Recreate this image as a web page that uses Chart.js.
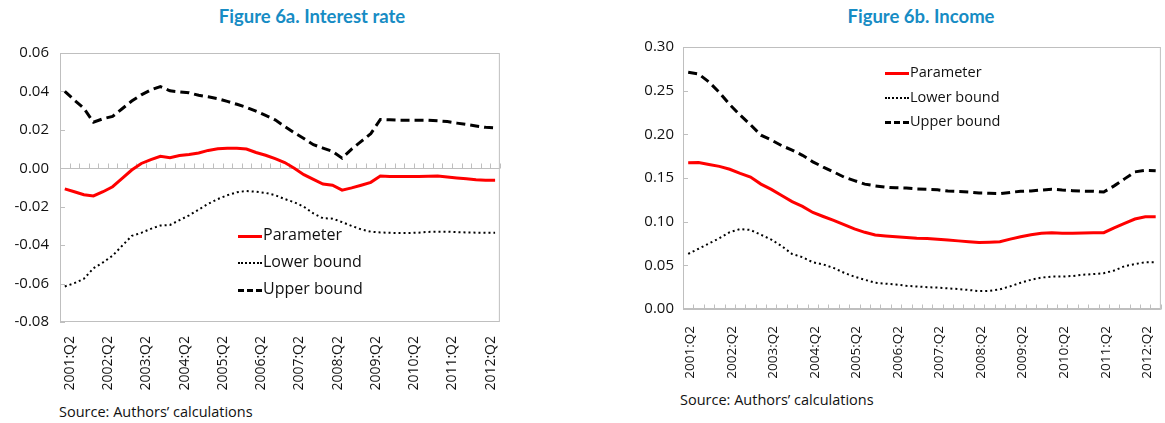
<!DOCTYPE html>
<html>
<head>
<meta charset="utf-8">
<script src="https://cdn.jsdelivr.net/npm/chart.js@4.4.1/dist/chart.umd.min.js"></script>
<style>
  html, body { margin: 0; padding: 0; background: #fff; }
  body { width: 1165px; height: 423px; position: relative; overflow: hidden; font-family: "Open Sans", sans-serif; }
  .title { position: absolute; top: 5px; font-family: Lato, sans-serif; font-weight: bold; font-size: 18.5px; color: #178cc4; white-space: nowrap; transform: translateX(-50%); }
  .source { position: absolute; font-size: 14.5px; color: #111; white-space: nowrap; }
  .box { position: absolute; }
  .legend { position: absolute; color: #111; white-space: nowrap; }
  .legend div { position: relative; }
  .legend span.s { position: absolute; left: 0; width: 24px; }
</style>
</head>
<body>
<div class="title" style="left:312px">Figure 6a. Interest rate</div>
<div class="title" style="left:921px">Figure 6b. Income</div>

<div class="box" style="left:0; top:41px; width:518px; height:361px"><canvas id="rateChart"></canvas></div>
<div class="box" style="left:623px; top:37px; width:558px; height:352px"><canvas id="incomeChart"></canvas></div>

<div class="legend" id="legA" style="left:238px; top:221px; font-size:16px; line-height:27px"></div>
<div class="legend" id="legB" style="left:885px; top:60px; font-size:14.5px; line-height:24.5px"></div>

<div class="source" style="left:59px; top:402px">Source: Authors’ calculations</div>
<div class="source" style="left:680px; top:390px">Source: Authors’ calculations</div>

<script>
const quarters = [
  '2001:Q2','2001:Q3','2001:Q4',
  '2002:Q1','2002:Q2','2002:Q3','2002:Q4',
  '2003:Q1','2003:Q2','2003:Q3','2003:Q4',
  '2004:Q1','2004:Q2','2004:Q3','2004:Q4',
  '2005:Q1','2005:Q2','2005:Q3','2005:Q4',
  '2006:Q1','2006:Q2','2006:Q3','2006:Q4',
  '2007:Q1','2007:Q2','2007:Q3','2007:Q4',
  '2008:Q1','2008:Q2','2008:Q3','2008:Q4',
  '2009:Q1','2009:Q2','2009:Q3','2009:Q4',
  '2010:Q1','2010:Q2','2010:Q3','2010:Q4',
  '2011:Q1','2011:Q2','2011:Q3','2011:Q4',
  '2012:Q1','2012:Q2','2012:Q3'
];

// Figure 6a - interest rate
const rateParam = [-0.0107,-0.0122,-0.0138,-0.0144,-0.0122,-0.0096,-0.0053,-0.0009,0.0025,0.0045,
  0.0062,0.0055,0.0066,0.0072,0.0080,0.0093,0.0102,0.0104,0.0104,0.0100,
  0.0082,0.0068,0.0050,0.0030,0.0000,-0.0033,-0.0058,-0.0082,-0.0088,-0.0114,
  -0.0102,-0.0088,-0.0073,-0.0040,-0.0043,-0.0043,-0.0043,-0.0043,-0.0042,-0.0040,
  -0.0045,-0.0050,-0.0054,-0.0060,-0.0062,-0.0062];
const rateLower = [-0.0615,-0.0598,-0.0575,-0.0520,-0.0490,-0.0455,-0.0403,-0.0352,-0.0336,-0.0315,
  -0.0298,-0.0295,-0.0270,-0.0245,-0.0215,-0.0185,-0.0160,-0.0140,-0.0125,-0.0118,
  -0.0122,-0.0128,-0.0140,-0.0160,-0.0177,-0.0200,-0.0235,-0.0260,-0.0262,-0.0280,
  -0.0300,-0.0318,-0.0330,-0.0334,-0.0336,-0.0337,-0.0337,-0.0335,-0.0331,-0.0330,
  -0.0330,-0.0332,-0.0334,-0.0335,-0.0336,-0.0336];
const rateUpper = [0.0400,0.0355,0.0312,0.0240,0.0258,0.0270,0.0310,0.0350,0.0382,0.0408,
  0.0425,0.0403,0.0398,0.0393,0.0380,0.0372,0.0362,0.0348,0.0333,0.0317,
  0.0297,0.0275,0.0252,0.0218,0.0185,0.0155,0.0123,0.0105,0.0088,0.0053,
  0.0100,0.0140,0.0180,0.0254,0.0252,0.0250,0.0250,0.0250,0.0250,0.0247,
  0.0243,0.0235,0.0228,0.0220,0.0213,0.0210];
const rateTicks = [-0.08, 0.06, 0.02]; // min, max, step

// Figure 6b - income
const incParam = [0.1675,0.1678,0.1655,0.1633,0.1600,0.1553,0.1510,0.1430,0.1370,0.1300,
  0.1230,0.1175,0.1105,0.1059,0.1015,0.0965,0.0918,0.0878,0.0848,0.0837,
  0.0828,0.0818,0.0810,0.0808,0.0798,0.0790,0.0780,0.0770,0.0762,0.0765,
  0.0770,0.0800,0.0828,0.0850,0.0866,0.0872,0.0866,0.0866,0.0870,0.0872,
  0.0874,0.0930,0.0980,0.1030,0.1055,0.1055];
const incLower = [0.0631,0.0690,0.0750,0.0810,0.0880,0.0915,0.0905,0.0850,0.0795,0.0720,
  0.0630,0.0593,0.0535,0.0510,0.0470,0.0415,0.0370,0.0335,0.0300,0.0290,
  0.0280,0.0265,0.0258,0.0250,0.0245,0.0237,0.0228,0.0218,0.0205,0.0208,
  0.0225,0.0260,0.0300,0.0335,0.0360,0.0371,0.0371,0.0378,0.0392,0.0400,
  0.0410,0.0440,0.0490,0.0515,0.0535,0.0535];
const incUpper = [0.2710,0.2690,0.2600,0.2480,0.2340,0.2220,0.2110,0.1990,0.1935,0.1870,
  0.1820,0.1760,0.1685,0.1625,0.1570,0.1510,0.1470,0.1430,0.1410,0.1395,
  0.1388,0.1385,0.1375,0.1370,0.1365,0.1350,0.1345,0.1340,0.1328,0.1325,
  0.1320,0.1335,0.1348,0.1352,0.1362,0.1372,0.1362,0.1355,0.1350,0.1348,
  0.1340,0.1410,0.1490,0.1570,0.1587,0.1582];
const incTicks = [0, 0.30, 0.05];

const seriesNames = ['Parameter', 'Lower bound', 'Upper bound'];
const axisGrey = '#bfbfbf';

// plot border, inward ticks and the category axis line (at opts.base)
const excelFrame = {
  id: 'excelFrame',
  beforeDatasetsDraw(chart, args, opts) {
    const { ctx, chartArea: a, scales: { x, y } } = chart;
    ctx.save();
    ctx.strokeStyle = axisGrey;
    ctx.lineWidth = 1;
    ctx.strokeRect(a.left + 0.5, a.top + 0.5, a.width - 1, a.height - 1);
    ctx.beginPath();
    y.ticks.forEach(t => {
      const py = Math.round(y.getPixelForValue(t.value)) + 0.5;
      ctx.moveTo(a.left, py); ctx.lineTo(a.left + 5, py);
    });
    const by = Math.round(y.getPixelForValue(opts.base)) + 0.5;
    ctx.moveTo(a.left, by); ctx.lineTo(a.right, by);
    const w = x.getPixelForValue(1) - x.getPixelForValue(0);
    for (let i = 0; i <= quarters.length; i++) {
      const px = Math.round(x.getPixelForValue(0) - w / 2 + i * w) + 0.5;
      ctx.moveTo(px, by); ctx.lineTo(px, by - 5);
    }
    ctx.stroke();
    ctx.restore();
  }
};

function makeChart(id, data, ticks, opt) {
  const [lo, up] = [data[1], data[2]];
  return new Chart(document.getElementById(id), {
    type: 'line',
    data: {
      labels: quarters,
      datasets: [
        { label: seriesNames[0], data: data[0], borderColor: '#ff0000', borderWidth: 3 },
        { label: seriesNames[1], data: lo, borderColor: '#000', borderWidth: 2, borderDash: [2, 3] },
        { label: seriesNames[2], data: up, borderColor: '#000', borderWidth: 3, borderDash: [9, 5] }
      ]
    },
    options: {
      responsive: true,
      maintainAspectRatio: false,
      animation: false,
      layout: { padding: { top: 10, right: 10, left: 0, bottom: 0 } },
      elements: { point: { radius: 0 }, line: { tension: 0, borderCapStyle: 'butt' } },
      plugins: { legend: { display: false }, tooltip: { enabled: false }, excelFrame: { base: 0 } },
      scales: {
        x: {
          offset: true,
          grid: { display: false },
          border: { display: false },
          afterFit: s => { s.height = 80; },
          ticks: {
            autoSkip: false, minRotation: 90, maxRotation: 90,
            padding: opt.xPad, labelOffset: opt.shift,
            color: '#111', font: { family: 'Open Sans', size: opt.xFont },
            callback: (v, i) => i % 4 === 0 ? quarters[i] : ''
          }
        },
        y: {
          min: ticks[0], max: ticks[1],
          grid: { display: false },
          border: { display: false },
          afterFit: s => { s.width = 60; },
          ticks: {
            stepSize: ticks[2], padding: opt.yPad,
            color: '#111', font: { family: 'Open Sans', size: 15 },
            callback: v => Number(v).toFixed(2)
          }
        }
      }
    },
    plugins: [excelFrame]
  });
}

makeChart('rateChart', [rateParam, rateLower, rateUpper], rateTicks, { xFont: 14, xPad: 6, shift: 5, yPad: 3 });
makeChart('incomeChart', [incParam, incLower, incUpper], incTicks, { xFont: 13.5, xPad: 9, shift: 2, yPad: 1 });

function legend(id, width) {
  const styles = [
    'border-top:3px solid #ff0000',
    'border-top:2px dotted #000',
    'border-top:3px dashed #000'
  ];
  const el = document.getElementById(id);
  seriesNames.forEach((name, i) => {
    const row = document.createElement('div');
    row.style.paddingLeft = (width + 1) + 'px';
    row.innerHTML = '<span class="s" style="top:50%;' + styles[i] + ';width:' + width + 'px"></span>' + name;
    el.appendChild(row);
  });
}
legend('legA', 24);
legend('legB', 24);
</script>
</body>
</html>
